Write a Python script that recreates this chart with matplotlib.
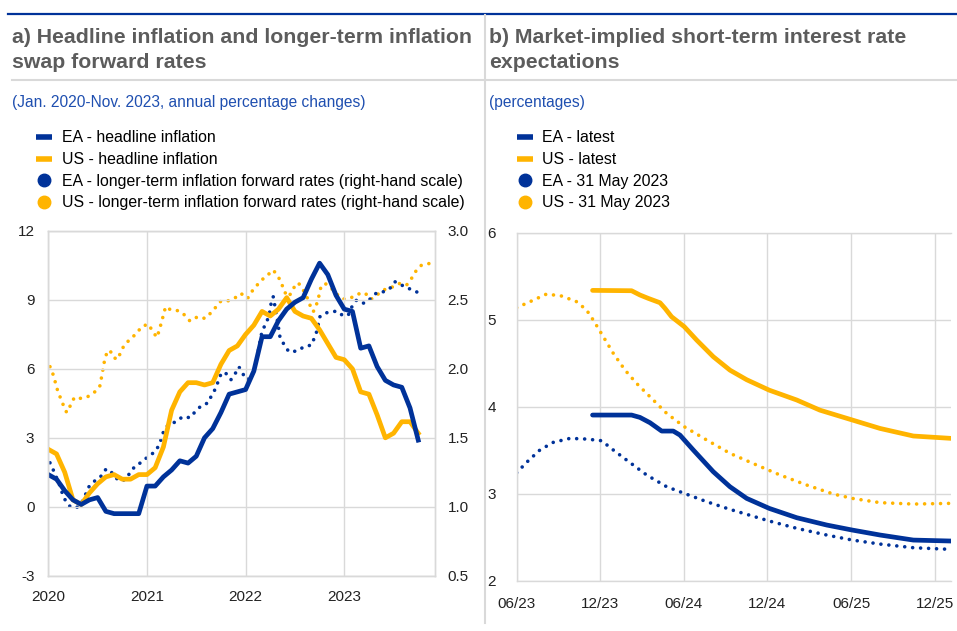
"""Headline inflation / forward rates and market-implied rate expectations."""

import matplotlib

matplotlib.use("Agg")
import matplotlib.pyplot as plt
from matplotlib.lines import Line2D
import numpy as np

plt.rcParams["font.family"] = ["Liberation Sans", "DejaVu Sans"]
plt.rcParams["axes.unicode_minus"] = False

EA_BLUE = "#003299"
US_YELLOW = "#FFB400"
GRID = "#d9d9d9"
TITLE_GREY = "#5c5c5c"
SUB_BLUE = "#1f4fb0"

# ---- panel a: headline inflation, monthly Jan 2020 - Oct 2023 (left scale)
ea_headline = [
    1.4, 1.2, 0.7, 0.3, 0.1, 0.3, 0.4, -0.2, -0.3, -0.3, -0.3, -0.3,
    0.9, 0.9, 1.3, 1.6, 2.0, 1.9, 2.2, 3.0, 3.4, 4.1, 4.9, 5.0,
    5.1, 5.9, 7.4, 7.4, 8.1, 8.6, 8.9, 9.1, 9.9, 10.6, 10.1, 9.2,
    8.6, 8.5, 6.9, 7.0, 6.1, 5.5, 5.3, 5.2, 4.3, 2.9,
]
us_headline = [
    2.5, 2.3, 1.5, 0.3, 0.1, 0.6, 1.0, 1.3, 1.4, 1.2, 1.2, 1.4,
    1.4, 1.7, 2.6, 4.2, 5.0, 5.4, 5.4, 5.3, 5.4, 6.2, 6.8, 7.0,
    7.5, 7.9, 8.5, 8.3, 8.6, 9.1, 8.5, 8.3, 8.2, 7.7, 7.1, 6.5,
    6.4, 6.0, 5.0, 4.9, 4.0, 3.0, 3.2, 3.7, 3.7, 3.2,
]

# longer-term inflation forward rates (right-hand scale), decimal years
ea_fwd_t = [
    2020.017, 2020.051, 2020.118, 2020.142, 2020.176, 2020.223, 2020.287, 2020.341,
    2020.378, 2020.412, 2020.473, 2020.530, 2020.578, 2020.622, 2020.666, 2020.723,
    2020.784, 2020.828, 2020.878, 2020.946, 2021.010, 2021.078, 2021.122, 2021.149,
    2021.172, 2021.220, 2021.297, 2021.361, 2021.439, 2021.490, 2021.551, 2021.622,
    2021.655, 2021.699, 2021.726, 2021.757, 2021.801, 2021.851, 2021.892, 2021.932,
    2021.966, 2022.010, 2022.061, 2022.111, 2022.162, 2022.196, 2022.236, 2022.264,
    2022.280, 2022.314, 2022.348, 2022.392, 2022.439, 2022.517, 2022.595, 2022.669,
    2022.720, 2022.753, 2022.821, 2022.922, 2022.990, 2023.041, 2023.074, 2023.125,
    2023.203, 2023.270, 2023.328, 2023.395, 2023.463, 2023.514, 2023.581, 2023.649,
    2023.716, 2023.784,
]
ea_fwd = [
    1.319, 1.266, 1.152, 1.097, 1.041, 1.000, 0.993, 1.034,
    1.090, 1.145, 1.189, 1.218, 1.268, 1.271, 1.222, 1.186,
    1.198, 1.247, 1.293, 1.324, 1.363, 1.397, 1.445, 1.500,
    1.556, 1.597, 1.617, 1.653, 1.646, 1.691, 1.733, 1.754,
    1.808, 1.861, 1.919, 1.974, 1.967, 1.921, 1.962, 2.015,
    1.972, 1.919, 1.943, 2.064, 2.257, 2.318, 2.378, 2.499,
    2.523, 2.390, 2.233, 2.173, 2.124, 2.129, 2.161, 2.173,
    2.269, 2.378, 2.407, 2.419, 2.385, 2.390, 2.446, 2.499,
    2.475, 2.511, 2.552, 2.559, 2.584, 2.632, 2.608, 2.584,
    2.567, 2.535,
]
us_fwd_t = [
    2020.017, 2020.051, 2020.095, 2020.128, 2020.159, 2020.186, 2020.230, 2020.264,
    2020.331, 2020.399, 2020.473, 2020.524, 2020.568, 2020.591, 2020.625, 2020.659,
    2020.703, 2020.736, 2020.770, 2020.838, 2020.895, 2020.946, 2021.014, 2021.057,
    2021.101, 2021.122, 2021.149, 2021.189, 2021.243, 2021.318, 2021.372, 2021.436,
    2021.514, 2021.588, 2021.649, 2021.696, 2021.750, 2021.824, 2021.899, 2021.953,
    2022.020, 2022.061, 2022.111, 2022.162, 2022.223, 2022.280, 2022.331, 2022.365,
    2022.392, 2022.439, 2022.483, 2022.534, 2022.584, 2022.618, 2022.652, 2022.686,
    2022.730, 2022.764, 2022.804, 2022.855, 2022.922, 2022.990, 2023.074, 2023.142,
    2023.209, 2023.270, 2023.328, 2023.412, 2023.480, 2023.564, 2023.632, 2023.682,
    2023.733, 2023.784, 2023.868,
]
us_fwd = [
    2.016, 1.955, 1.841, 1.781, 1.725, 1.684, 1.742, 1.793,
    1.786, 1.798, 1.834, 1.878, 2.052, 2.112, 2.136, 2.083,
    2.069, 2.124, 2.173, 2.221, 2.257, 2.306, 2.325, 2.274,
    2.228, 2.274, 2.342, 2.451, 2.427, 2.422, 2.397, 2.347,
    2.378, 2.366, 2.407, 2.446, 2.492, 2.494, 2.518, 2.547,
    2.511, 2.559, 2.603, 2.644, 2.680, 2.717, 2.668, 2.620,
    2.559, 2.523, 2.584, 2.625, 2.572, 2.528, 2.463, 2.414,
    2.487, 2.596, 2.620, 2.596, 2.543, 2.506, 2.518, 2.543,
    2.552, 2.504, 2.535, 2.576, 2.591, 2.620, 2.608, 2.656,
    2.717, 2.753, 2.765,
]

# ---- panel b: market-implied short-term rates, x = months after June 2023
us_latest_t = [5.45, 6.9, 8.25, 8.85, 9.45, 10.29, 10.65, 11.12, 12.03, 12.92,
               14.11, 15.31, 16.51, 18.13, 20.1, 21.77, 24.09, 26.08, 28.47, 31.17]
us_latest = [5.337, 5.335, 5.333, 5.284, 5.245, 5.195, 5.13, 5.034, 4.92, 4.766,
             4.575, 4.42, 4.31, 4.19, 4.077, 3.96, 3.847, 3.75, 3.663, 3.636]
ea_latest_t = [5.45, 8.25, 8.85, 9.57, 10.41, 11.24, 11.72, 12.68, 14.11, 15.31,
               16.51, 18.13, 20.1, 22.25, 24.09, 26.08, 28.47, 31.17]
ea_latest = [3.904, 3.904, 3.877, 3.816, 3.72, 3.72, 3.674, 3.502, 3.253, 3.08,
             2.946, 2.831, 2.724, 2.64, 2.582, 2.525, 2.467, 2.456]
us_may_t = [0, 0.96, 2.15, 3.23, 4.31, 5.02, 5.5, 6.22, 6.94, 7.78, 8.61, 9.57,
            10.77, 12.03, 13.64, 15.31, 17.22, 18.9, 20.81, 22.73, 24.09, 26.08,
            28.47, 31.17]
us_may = [5.138, 5.207, 5.295, 5.272, 5.207, 5.111, 4.996, 4.805, 4.613, 4.421,
          4.268, 4.115, 3.923, 3.77, 3.617, 3.464, 3.33, 3.215, 3.1, 2.996, 2.946,
          2.897, 2.881, 2.889]
ea_may_t = [0, 0.84, 1.67, 2.63, 3.83, 5.02, 6.1, 6.94, 7.89, 9.33, 10.77, 12.03,
            13.64, 15.31, 18.13, 20.1, 22.25, 24.09, 26.08, 28.47, 31.17]
ea_may = [3.241, 3.379, 3.502, 3.59, 3.636, 3.628, 3.609, 3.502, 3.387, 3.215,
          3.08, 3.004, 2.908, 2.82, 2.686, 2.602, 2.525, 2.467, 2.421, 2.379, 2.36]
b_ticks = [0, 6, 12, 18, 24, 30]
b_tick_labels = ["06/23", "12/23", "06/24", "12/24", "06/25", "12/25"]

W, H = 957, 631
SOLID_LW = 3.4
DOT = dict(linewidth=2.6, linestyle=(0, (0.01, 2.2)), dash_capstyle="round")


def fx(px):
    return px / W


def fy(py):
    return 1 - py / H


def style_axis(ax):
    ax.grid(True, color=GRID, linewidth=1.0)
    ax.set_axisbelow(True)
    ax.tick_params(length=0, labelsize=11, colors="#222222")
    for s in ax.spines.values():
        s.set_color(GRID)
        s.set_linewidth(1.0)


def legend_handles():
    return [
        Line2D([], [], color=EA_BLUE, linewidth=4, solid_capstyle="butt"),
        Line2D([], [], color=US_YELLOW, linewidth=4, solid_capstyle="butt"),
        Line2D([], [], color=EA_BLUE, linestyle="none", marker="o", markersize=9),
        Line2D([], [], color=US_YELLOW, linestyle="none", marker="o", markersize=9),
    ]


LEG_KW = dict(loc="upper left", frameon=False, fontsize=11.4, handlelength=1.0,
              handletextpad=0.62, labelspacing=0.42, borderpad=0, borderaxespad=0)

fig = plt.figure(figsize=(W / 100, H / 100), dpi=100)

# header decoration
fig.add_artist(Line2D([fx(8), 1], [fy(14), fy(14)], color=EA_BLUE, linewidth=1.6))
fig.add_artist(Line2D([fx(12), 1], [fy(80), fy(80)], color=GRID, linewidth=1.5))
fig.add_artist(Line2D([fx(484.5), fx(484.5)], [fy(15), fy(623)], color=GRID, linewidth=1.5))

title_kw = dict(fontsize=15.3, fontweight="bold", color=TITLE_GREY, va="baseline")
fig.text(fx(12), fy(43), "a) Headline inflation and longer-term inflation", **title_kw)
fig.text(fx(12), fy(68), "swap forward rates", **title_kw)
fig.text(fx(489), fy(43), "b) Market-implied short-term interest rate", **title_kw)
fig.text(fx(489), fy(68), "expectations", **title_kw)
fig.text(fx(12), fy(107), "(Jan. 2020-Nov. 2023, annual percentage changes)",
         fontsize=11.2, color=SUB_BLUE, va="baseline")
fig.text(fx(489), fy(107), "(percentages)", fontsize=11.2, color=SUB_BLUE, va="baseline")

# ---- panel a
ax_a = fig.add_axes([fx(48.3), fy(575.7), fx(435) - fx(48.3), fy(231) - fy(575.7)])
ax_a2 = ax_a.twinx()
ax_a.set_zorder(ax_a2.get_zorder() + 1)
ax_a.patch.set_visible(False)

months = 2020 + np.arange(len(ea_headline)) / 12
ax_a2.plot(us_fwd_t, us_fwd, color=US_YELLOW, **DOT)
ax_a2.plot(ea_fwd_t, ea_fwd, color=EA_BLUE, **DOT)
ax_a.plot(months, us_headline, color=US_YELLOW, linewidth=SOLID_LW, solid_joinstyle="round")
ax_a.plot(months, ea_headline, color=EA_BLUE, linewidth=SOLID_LW, solid_joinstyle="round")

ax_a.set_xlim(2020, 2023.92)
ax_a.set_ylim(-3, 12)
ax_a.set_yticks(np.arange(-3, 13, 3))
ax_a.set_xticks([2020, 2021, 2022, 2023])
ax_a.set_xticklabels(["2020", "2021", "2022", "2023"])
ax_a2.set_ylim(0.5, 3.0)
ax_a2.set_yticks(np.arange(0.5, 3.01, 0.5))
ax_a2.set_yticklabels([f"{v:.1f}" for v in np.arange(0.5, 3.01, 0.5)])
style_axis(ax_a)
style_axis(ax_a2)
ax_a2.grid(False)
ax_a.tick_params(axis="y", pad=10)
ax_a.tick_params(axis="x", pad=10)
ax_a2.tick_params(axis="y", pad=9)

fig.legend(
    legend_handles(),
    ["EA - headline inflation", "US - headline inflation",
     "EA - longer-term inflation forward rates (right-hand scale)",
     "US - longer-term inflation forward rates (right-hand scale)"],
    bbox_to_anchor=(fx(36), fy(130.5)), **LEG_KW,
)

# ---- panel b
ax_b = fig.add_axes([fx(516.6), fy(580.7), fx(951) - fx(516.6), fy(232.7) - fy(580.7)])
ax_b.plot(us_may_t, us_may, color=US_YELLOW, **DOT)
ax_b.plot(ea_may_t, ea_may, color=EA_BLUE, **DOT)
ax_b.plot(us_latest_t, us_latest, color=US_YELLOW, linewidth=SOLID_LW,
          solid_capstyle="round")
ax_b.plot(ea_latest_t, ea_latest, color=EA_BLUE, linewidth=SOLID_LW,
          solid_capstyle="round")
ax_b.set_xlim(0, 31.17)
ax_b.set_ylim(2, 6)
ax_b.set_yticks([2, 3, 4, 5, 6])
ax_b.set_xticks(b_ticks)
ax_b.set_xticklabels(b_tick_labels)
style_axis(ax_b)
ax_b.spines["right"].set_visible(False)
ax_b.tick_params(axis="y", pad=15)
ax_b.tick_params(axis="x", pad=12)

fig.legend(
    legend_handles(),
    ["EA - latest", "US - latest", "EA - 31 May 2023", "US - 31 May 2023"],
    bbox_to_anchor=(fx(516.7), fy(130.5)), **LEG_KW,
)

fig.savefig("out.png", dpi=100)
